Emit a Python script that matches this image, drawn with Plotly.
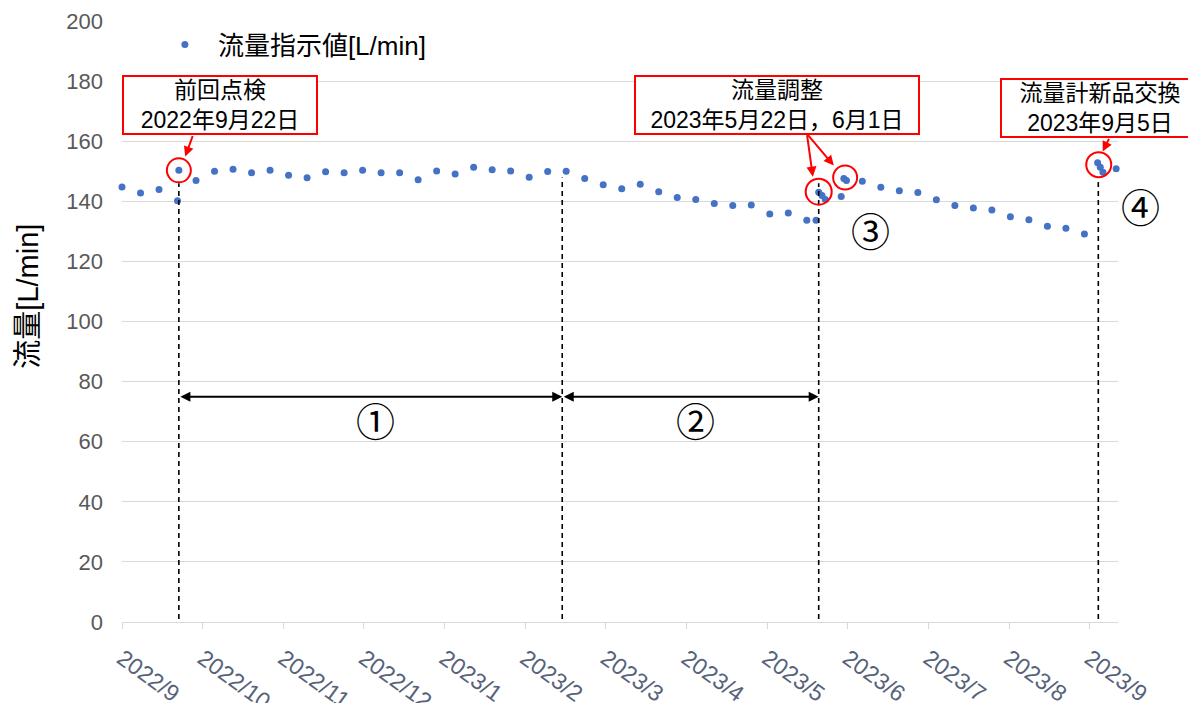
import pandas as pd
import plotly.graph_objects as go

# ---- data ----
dates = [
    "2022-09-01", "2022-09-08", "2022-09-15", "2022-09-22 00:00", "2022-09-22 12:00", "2022-09-29",
    "2022-10-06", "2022-10-13", "2022-10-20", "2022-10-27",
    "2022-11-03", "2022-11-10", "2022-11-17", "2022-11-24",
    "2022-12-01", "2022-12-08", "2022-12-15", "2022-12-22", "2022-12-29",
    "2023-01-05", "2023-01-12", "2023-01-19", "2023-01-26",
    "2023-02-02", "2023-02-09", "2023-02-16", "2023-02-23",
    "2023-03-02", "2023-03-09", "2023-03-16", "2023-03-23", "2023-03-30",
    "2023-04-06", "2023-04-13", "2023-04-20", "2023-04-27",
    "2023-05-04", "2023-05-11", "2023-05-18", "2023-05-21 12:00", "2023-05-22 12:00",
    "2023-05-23 18:00", "2023-05-25", "2023-05-31",
    "2023-06-01", "2023-06-02", "2023-06-08", "2023-06-15", "2023-06-22", "2023-06-29",
    "2023-07-06", "2023-07-13", "2023-07-20", "2023-07-27",
    "2023-08-03", "2023-08-10", "2023-08-17", "2023-08-24", "2023-08-31",
    "2023-09-05", "2023-09-06", "2023-09-07", "2023-09-12",
]
flow = [
    144.8, 142.8, 143.9, 140.2, 150.3, 146.9,
    150.0, 150.7, 149.5, 150.3,
    148.7, 147.8, 149.8, 149.5,
    150.3, 149.5, 149.5, 147.2, 150.1,
    149.1, 151.3, 150.5, 150.1,
    148.0, 149.9, 150.0, 147.6,
    145.5, 144.2, 145.7, 143.2, 141.3,
    140.6, 139.3, 138.6, 138.8,
    135.8, 136.1, 133.7, 133.7, 143.0,
    141.9, 140.6, 141.6,
    147.6, 146.9, 146.7, 144.7, 143.5, 142.9,
    140.5, 138.6, 137.8, 137.1,
    134.9, 133.9, 131.7, 131.0, 129.1,
    152.8, 151.3, 149.7, 150.8,
]
series_name = "流量指示値[L/min]"
y_title = "流量[L/min]"

tick_labels = ["2022/9", "2022/10", "2022/11", "2022/12", "2023/1", "2023/2", "2023/3",
               "2023/4", "2023/5", "2023/6", "2023/7", "2023/8", "2023/9"]
axis_start = pd.Timestamp("2022-09-01")
tick_step_days = 30.5
tick_vals = [axis_start + pd.Timedelta(days=tick_step_days * i) for i in range(len(tick_labels))]
x_range = [axis_start, axis_start + pd.Timedelta(days=376.7)]

# events (dashed lines): date, top value
event_dates = ["2022-09-22 12:00", "2023-02-14 12:00", "2023-05-22 12:00", "2023-09-05 06:00"]
event_tops = [146.0, 147.9, 146.0, 148.0]

# highlighted circles: date, value, radius(px)
circle_dates = ["2022-09-22 12:00", "2023-05-22 12:00", "2023-06-01 12:00", "2023-09-05 10:00"]
circle_vals = [150.3, 143.2, 147.9, 152.2]
circle_r = [12, 13, 12, 12.5]

FONT = "Liberation Sans, Arial, Noto Sans CJK JP"

fig = go.Figure()
fig.add_trace(go.Scatter(
    x=pd.to_datetime(dates, format="mixed"), y=flow, mode="markers", name=series_name,
    marker=dict(color="#4472C4", size=7, line=dict(width=0)),
    cliponaxis=False,
))

shapes = []
for d, top in zip(event_dates, event_tops):
    shapes.append(dict(type="line", xref="x", yref="y", x0=d, x1=d, y0=1, y1=top,
                       line=dict(color="black", width=1.6, dash="5px,4px")))
for d, v, r in zip(circle_dates, circle_vals, circle_r):
    shapes.append(dict(type="circle", xref="x", yref="y", xsizemode="pixel", ysizemode="pixel",
                       xanchor=d, yanchor=v, x0=-r, x1=r, y0=-r, y1=r,
                       line=dict(color="red", width=2)))

annotations = []
box_font = dict(family=FONT, size=23, color="black")
# boxes
annotations.append(dict(xref="paper", yref="paper", x=0.0, y=0.910, xanchor="left", yanchor="top",
                        text="前回点検<br>2022年9月22日", showarrow=False, font=box_font,
                        bordercolor="red", borderwidth=2, bgcolor="white", width=192, height=56,
                        borderpad=0, align="center"))
annotations.append(dict(xref="paper", yref="paper", x=0.514, y=0.910, xanchor="left", yanchor="top",
                        text="流量調整<br>2023年5月22日，6月1日", showarrow=False, font=box_font,
                        bordercolor="red", borderwidth=2, bgcolor="white", width=282, height=56,
                        borderpad=0, align="center"))
annotations.append(dict(xref="paper", yref="paper", x=0.8815, y=0.905, xanchor="left", yanchor="top",
                        text="流量計新品交換<br>2023年9月5日", showarrow=False, font=box_font,
                        bordercolor="red", borderwidth=2, bgcolor="white", width=196, height=56,
                        borderpad=0, align="center"))
# red arrows
red_arrows = [("2022-09-24 22:00", 154.9, 8, -22),
              ("2023-05-20 07:00", 148.2, -6, -43),
              ("2023-05-28 05:00", 151.9, -27, -32),
              ("2023-09-06 22:00", 156.6, 7, -14)]
for d, v, ax, ay in red_arrows:
    annotations.append(dict(xref="x", yref="y", x=d, y=v, ax=ax, ay=ay, text="", showarrow=True,
                            arrowhead=2, arrowsize=1, arrowwidth=2, arrowcolor="red"))
# double arrows
for a, b in [(event_dates[0], event_dates[1]), (event_dates[1], event_dates[2])]:
    annotations.append(dict(xref="x", yref="y", x=b, y=75, axref="x", ayref="y", ax=a, ay=75,
                            text="", showarrow=True, arrowhead=2, startarrowhead=2, arrowside="end+start",
                            arrowsize=1, startarrowsize=1, arrowwidth=2, arrowcolor="black"))
num_font = dict(family="Noto Sans CJK JP", size=39, color="black")
annotations.append(dict(xref="x", yref="y", x="2022-12-06", y=67.5, text="①", showarrow=False, font=num_font))
annotations.append(dict(xref="x", yref="y", x="2023-04-06", y=67.5, text="②", showarrow=False, font=num_font))
annotations.append(dict(xref="x", yref="y", x="2023-06-11", y=130.9, text="③", showarrow=False, font=num_font))
annotations.append(dict(xref="paper", yref="paper", x=1.023, y=0.694, xanchor="center", yanchor="middle",
                        text="④", showarrow=False, font=num_font))
# y-axis title (placed as in the reference, slightly above centre)
annotations.append(dict(xref="paper", yref="paper", x=-0.094, y=0.542, xanchor="center", yanchor="middle",
                        text=y_title, textangle=-90, showarrow=False,
                        font=dict(family=FONT, size=29, color="black")))

# the page body adds an 8px offset, so margins are reduced accordingly
fig.update_layout(
    width=1188, height=695,
    margin=dict(l=114, r=78, t=13, b=81),
    paper_bgcolor="white", plot_bgcolor="white",
    font=dict(family=FONT, size=20, color="#595959"),
    showlegend=True,
    legend=dict(x=0.03, y=1.0, xanchor="left", yanchor="top", bgcolor="white",
                font=dict(family=FONT, size=26, color="black"), itemwidth=56),
    shapes=shapes, annotations=annotations,
)
fig.update_xaxes(
    type="date", range=x_range, tickvals=tick_vals, ticktext=tick_labels, tickangle=36,
    showgrid=False, showline=True, linecolor="#d9d9d9", linewidth=1,
    ticks="outside", tickcolor="#d9d9d9", ticklen=6, automargin=False, ticklabelstandoff=7,
    tickfont=dict(family=FONT, size=23, color="#56627a"), zeroline=False,
)
fig.update_yaxes(
    range=[0, 200], dtick=20, showgrid=True, gridcolor="#d9d9d9", gridwidth=1,
    zeroline=False, showline=False, ticks="", ticklabelstandoff=18, automargin=False,
    tickfont=dict(family=FONT, size=22, color="#595959"),
)
fig.write_html("out.html")
